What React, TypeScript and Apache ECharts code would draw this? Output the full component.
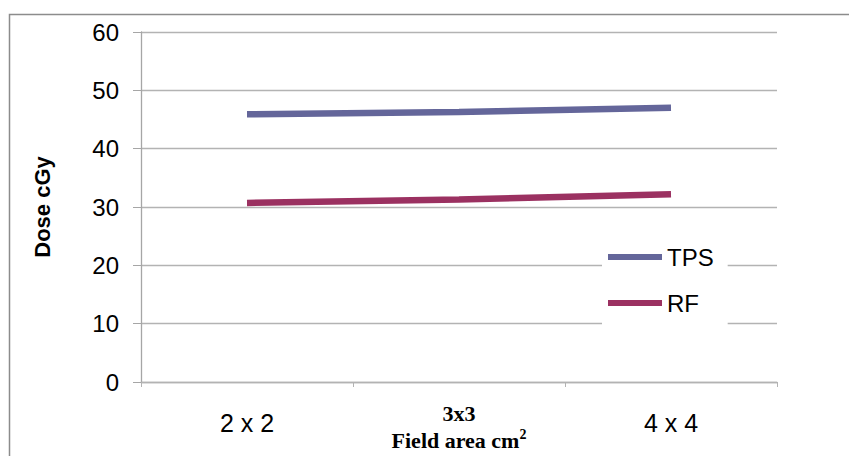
import React, { useEffect, useRef } from "react";
import * as echarts from "echarts";

const categories = ["2 x 2", "3x3", "4 x 4"];
const tpsValues = [45.9, 46.3, 47.0];
const rfValues = [30.7, 31.3, 32.2];
const yTicks = { min: 0, max: 60, interval: 10 };

export default function App() {
  const ref = useRef<HTMLDivElement>(null);
  useEffect(() => {
    if (!ref.current) return;
    const chart = echarts.init(ref.current, undefined, { renderer: "svg" });
    const sans = "'Liberation Sans', Arial, sans-serif";
    const serif = "'Liberation Serif', 'Times New Roman', serif";
    chart.setOption({
      animation: false,
      backgroundColor: "#ffffff",
      graphic: [
        {
          type: "rect",
          shape: { x: 9.5, y: 14.5, width: 900, height: 500 },
          style: { fill: "none", stroke: "#8c8c8c", lineWidth: 1.5 },
          silent: true,
          z: 0,
        },
      ],
      grid: { left: 141, width: 636, top: 32, height: 360, containLabel: false },
      legend: {
        orient: "vertical",
        left: 602,
        top: 235,
        backgroundColor: "#ffffff",
        padding: [10, 14, 10, 6],
        icon: "rect",
        itemWidth: 54,
        itemHeight: 6,
        itemGap: 22,
        textStyle: { fontFamily: sans, fontSize: 24, color: "#000", lineHeight: 24 },
        data: ["TPS", "RF"],
      },
      xAxis: {
        type: "category",
        data: categories,
        boundaryGap: true,
        axisLine: { show: true, lineStyle: { color: "#b3b3b3", width: 1.3 } },
        axisTick: { show: true, length: 5, lineStyle: { color: "#b3b3b3" } },
        axisLabel: {
          fontFamily: sans,
          fontSize: 25,
          color: "#000",
          margin: 28,
          formatter: (v: string, i: number) => (i === 1 ? `{b|${v}}` : v),
          rich: {
            b: { fontFamily: serif, fontWeight: "bold", fontSize: 22, color: "#000", lineHeight: 6 },
          },
        },
        name: "Field area cm{s|2}",
        nameLocation: "middle",
        nameGap: 45,
        nameMoveOverlap: false,
        nameTextStyle: {
          fontFamily: serif,
          fontWeight: "bold",
          fontSize: 22,
          color: "#000",
          rich: {
            s: { fontFamily: serif, fontWeight: "bold", fontSize: 14, color: "#000", padding: [0, 0, 12, 0] },
          },
        },
      },
      yAxis: {
        type: "value",
        min: yTicks.min,
        max: yTicks.max,
        interval: yTicks.interval,
        axisLine: { show: true, lineStyle: { color: "#a6a6a6", width: 1.3 } },
        axisTick: { show: true, length: 8, lineStyle: { color: "#a6a6a6" } },
        axisLabel: { fontFamily: sans, fontSize: 24, color: "#000", margin: 22 },
        splitLine: { show: true, lineStyle: { color: "#b3b3b3", width: 1.3 } },
        name: "Dose cGy",
        nameLocation: "middle",
        nameGap: 88,
        nameRotate: 90,
        nameMoveOverlap: false,
        nameTextStyle: { fontFamily: sans, fontWeight: "bold", fontSize: 22, color: "#000" },
      },
      series: [
        {
          name: "TPS",
          type: "line",
          data: tpsValues,
          symbol: "none",
          lineStyle: { width: 6.5, color: "#64669A" },
          itemStyle: { color: "#64669A" },
        },
        {
          name: "RF",
          type: "line",
          data: rfValues,
          symbol: "none",
          lineStyle: { width: 6.5, color: "#9B3161" },
          itemStyle: { color: "#9B3161" },
        },
      ],
    });
    return () => chart.dispose();
  }, []);
  return (
    <div
      ref={ref}
      style={{ position: "fixed", left: 0, top: 0, width: 849, height: 456 }}
    />
  );
}
